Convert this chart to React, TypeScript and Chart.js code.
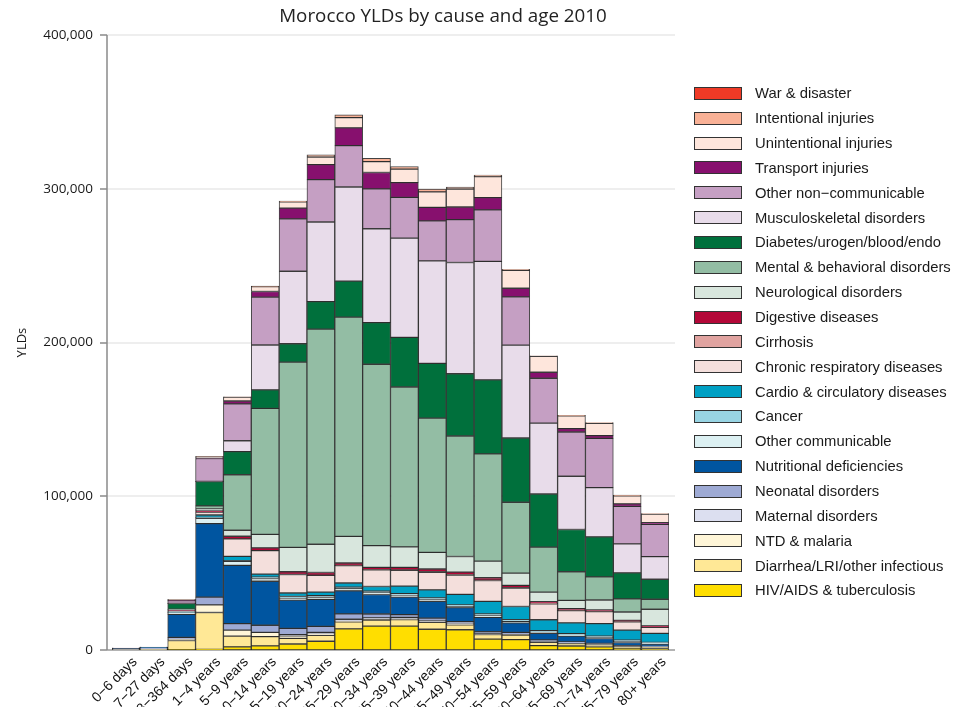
import React, { useEffect, useRef } from "react";
import { Chart, registerables } from "chart.js";
Chart.register(...registerables);

const ageGroups = [
  "0−6 days", "7−27 days", "28−364 days", "1−4 years", "5−9 years", "10−14 years",
  "15−19 years", "20−24 years", "25−29 years", "30−34 years", "35−39 years", "40−44 years",
  "45−49 years", "50−54 years", "55−59 years", "60−64 years", "65−69 years", "70−74 years",
  "75−79 years", "80+ years",
];

// Series values (YLDs), stacked bottom to top
const hivTb = [0, 0, 200, 400, 2000, 2700, 3900, 5700, 13700, 15500, 15500, 13500, 13200, 7100, 6700, 2800, 2600, 2000, 1100, 1000];
const diarrheaLri = [150, 350, 6000, 24000, 7000, 6000, 3700, 3900, 4600, 3900, 4300, 4500, 3200, 3000, 3000, 2200, 1500, 1300, 1100, 900];
const ntdMalaria = [0, 30, 800, 5000, 3900, 2800, 1600, 700, 300, 300, 300, 300, 300, 300, 300, 200, 200, 200, 100, 100];
const maternal = [0, 0, 0, 0, 0, 0, 800, 1200, 1400, 1200, 1100, 1000, 600, 0, 0, 0, 0, 0, 0, 0];
const neonatal = [900, 1100, 1200, 5000, 4300, 4600, 4100, 3900, 3500, 2500, 1800, 1400, 1200, 1500, 1500, 1400, 1000, 800, 500, 400];
const nutritional = [50, 150, 15000, 47800, 37900, 28600, 18400, 17500, 15000, 12700, 11500, 11000, 9100, 9300, 6100, 4300, 3700, 3200, 2100, 1500];
const otherCommunicable = [50, 100, 1000, 3500, 2600, 1800, 1200, 1600, 1400, 1100, 1100, 1000, 800, 1000, 900, 700, 700, 600, 600, 500];
const cancer = [0, 0, 300, 600, 400, 900, 1100, 900, 900, 1100, 1100, 1100, 900, 1200, 1200, 1000, 1000, 900, 900, 600];
const cardio = [0, 20, 400, 1500, 2800, 2000, 2300, 2300, 2800, 3000, 4800, 5300, 6900, 8200, 8600, 7100, 6900, 8200, 6500, 5800];
const chronicResp = [50, 50, 600, 1900, 11400, 15200, 12000, 10800, 11300, 10800, 10400, 11500, 12500, 13600, 11900, 10400, 8000, 7800, 5400, 3900];
const cirrhosis = [0, 0, 0, 0, 0, 0, 0, 100, 100, 200, 200, 300, 300, 300, 300, 200, 200, 100, 100, 100];
const digestive = [0, 0, 200, 900, 1700, 1800, 1800, 1800, 1600, 1400, 1600, 1800, 1700, 1500, 1500, 1100, 1100, 900, 900, 900];
const neurological = [0, 0, 500, 1100, 3900, 8800, 15900, 18400, 17300, 14200, 13400, 10800, 10100, 10800, 8000, 6300, 5400, 6500, 5400, 10800];
const mental = [0, 0, 300, 2100, 36100, 82000, 120500, 139900, 142600, 118000, 104000, 87300, 78400, 69800, 46100, 29200, 18600, 15100, 8600, 6500];
const diabetes = [0, 0, 3700, 15700, 15000, 12000, 11900, 17900, 23500, 27100, 32300, 35700, 40500, 48100, 41800, 34600, 27500, 26000, 16900, 13000];
const musculoskeletal = [0, 0, 100, 200, 7100, 29200, 47200, 51800, 61200, 61000, 64500, 66600, 72400, 77100, 60400, 46100, 34600, 32000, 18800, 14700];
const otherNcd = [50, 100, 1800, 14900, 24000, 31100, 34100, 27600, 26900, 26000, 26500, 26000, 27900, 33500, 31400, 29200, 28800, 32100, 24400, 21000];
const transport = [0, 0, 100, 300, 1900, 3700, 6900, 9700, 11500, 10600, 9600, 8800, 8200, 8000, 5600, 3900, 2200, 1800, 1700, 1100];
const unintentional = [50, 50, 600, 1000, 2500, 3200, 4100, 5000, 6700, 7100, 8800, 10100, 11700, 13600, 11700, 10400, 8400, 8000, 5200, 5600];
const intentional = [0, 0, 50, 100, 200, 300, 600, 1400, 1800, 2100, 1600, 1800, 1300, 1000, 600, 300, 200, 400, 500, 300];
const warDisaster = [0, 0, 0, 0, 0, 0, 0, 0, 0, 0, 0, 0, 0, 0, 0, 0, 0, 0, 0, 0];

const causeNames = [
  "HIV/AIDS & tuberculosis", "Diarrhea/LRI/other infectious", "NTD & malaria", "Maternal disorders",
  "Neonatal disorders", "Nutritional deficiencies", "Other communicable", "Cancer",
  "Cardio & circulatory diseases", "Chronic respiratory diseases", "Cirrhosis", "Digestive diseases",
  "Neurological disorders", "Mental & behavioral disorders", "Diabetes/urogen/blood/endo",
  "Musculoskeletal disorders", "Other non−communicable", "Transport injuries",
  "Unintentional injuries", "Intentional injuries", "War & disaster",
];
const causeValues = [
  hivTb, diarrheaLri, ntdMalaria, maternal, neonatal, nutritional, otherCommunicable, cancer,
  cardio, chronicResp, cirrhosis, digestive, neurological, mental, diabetes, musculoskeletal,
  otherNcd, transport, unintentional, intentional, warDisaster,
];
const causeColors = [
  "#ffde00", "#ffe896", "#fff6d8", "#dcdff0", "#9eaad4", "#0055a0", "#dcf0f2", "#98d4e3",
  "#00a0c4", "#f4dfdc", "#e0a3a0", "#b30738", "#d8e6dd", "#93bda4", "#00703c", "#e8dcea",
  "#c59fc3", "#87106e", "#fee6dc", "#f9b196", "#ef3a26",
];
const yTickValues = [0, 100000, 200000, 300000, 400000];
const chartTitle = "Morocco YLDs by cause and age 2010";
const yAxisTitle = "YLDs";

const W = 949;
const H = 699;

const decorPlugin = {
  id: "decor",
  beforeDatasetsDraw(chart: any) {
    const { ctx, chartArea, scales } = chart;
    const y = scales.y;
    const axisX = chartArea.left - 5;
    const rightX = chartArea.right + 6;
    ctx.save();
    ctx.lineWidth = 1.5;
    ctx.strokeStyle = "#e8e8e8";
    for (const v of yTickValues) {
      if (v === 0) continue;
      const py = Math.round(y.getPixelForValue(v));
      ctx.beginPath();
      ctx.moveTo(axisX, py);
      ctx.lineTo(rightX, py);
      ctx.stroke();
    }
    const zy = Math.round(y.getPixelForValue(0));
    ctx.strokeStyle = "#9a9a9a";
    ctx.beginPath();
    ctx.moveTo(axisX, zy);
    ctx.lineTo(rightX, zy);
    ctx.stroke();
    ctx.strokeStyle = "#8a8a8a";
    ctx.beginPath();
    ctx.moveTo(axisX, Math.round(y.getPixelForValue(400000)));
    ctx.lineTo(axisX, zy);
    ctx.stroke();
    for (const v of yTickValues) {
      const py = Math.round(y.getPixelForValue(v));
      ctx.beginPath();
      ctx.moveTo(axisX - 7, py);
      ctx.lineTo(axisX, py);
      ctx.stroke();
    }
    ctx.restore();
  },
  afterDraw(chart: any) {
    const { ctx } = chart;
    ctx.save();
    ctx.fillStyle = "#222";
    ctx.font = '18.8px "Open Sans", sans-serif';
    ctx.textAlign = "center";
    ctx.textBaseline = "alphabetic";
    ctx.fillText(chartTitle, 435, 14);

    const boxX = 685.5, boxW = 47.5, boxH = 12.8, firstY = 85.3, step = 24.85;
    ctx.font = '14.8px "Liberation Sans", Arial, sans-serif';
    ctx.textAlign = "left";
    ctx.textBaseline = "middle";
    const n = causeNames.length;
    for (let i = 0; i < n; i++) {
      const idx = n - 1 - i;
      const cy = firstY + i * step;
      const top = Math.round(cy - boxH / 2);
      ctx.fillStyle = causeColors[idx];
      ctx.fillRect(Math.round(boxX), top, Math.round(boxW), Math.round(boxH));
      ctx.strokeStyle = "#333";
      ctx.lineWidth = 1;
      ctx.strokeRect(Math.round(boxX) + 0.5, top + 0.5, Math.round(boxW) - 1, Math.round(boxH) - 1);
      ctx.fillStyle = "#1a1a1a";
      ctx.fillText(causeNames[idx], 747, cy + 1);
    }
    ctx.restore();
  },
};

export default function App() {
  const canvasRef = useRef<HTMLCanvasElement | null>(null);
  useEffect(() => {
    const canvas = canvasRef.current;
    if (!canvas) return;
    const chart = new Chart(canvas, {
      type: "bar",
      data: {
        labels: ageGroups,
        datasets: causeNames.map((name, i) => ({
          label: name,
          data: causeValues[i],
          backgroundColor: causeColors[i],
          borderColor: "rgba(20,20,20,0.8)",
          borderWidth: 1,
          borderSkipped: false,
          categoryPercentage: 1,
          barPercentage: 1,
        })),
      },
      options: {
        responsive: false,
        animation: false,
        devicePixelRatio: 1,
        layout: { padding: { left: 0, right: 288, top: 26, bottom: 0 } },
        plugins: {
          legend: { display: false },
          title: { display: false },
          tooltip: { enabled: false },
        },
        scales: {
          x: {
            stacked: true,
            grid: { display: false, drawTicks: false },
            border: { display: false },
            ticks: {
              autoSkip: false,
              maxRotation: 45,
              minRotation: 45,
              padding: 4,
              labelOffset: 9,
              color: "#111",
              font: { family: '"Liberation Sans", Arial, sans-serif', size: 14 },
            },
            afterFit: (scale: any) => { scale.height = 57; },
          },
          y: {
            stacked: true,
            min: 0,
            max: 400000,
            grid: { display: false, drawTicks: false },
            border: { display: false },
            ticks: {
              stepSize: 100000,
              padding: 19,
              color: "#1a1a1a",
              font: { family: '"Open Sans", sans-serif', size: 13.5 },
            },
            title: {
              display: true,
              text: yAxisTitle,
              color: "#1a1a1a",
              padding: { top: 6, bottom: 0 },
              font: { family: '"Open Sans", sans-serif', size: 13 },
            },
            afterFit: (scale: any) => { scale.width = 104; },
          },
        },
      },
      plugins: [decorPlugin],
    });
    return () => chart.destroy();
  }, []);
  return (
    <canvas ref={canvasRef} width={W} height={H} style={{ display: "block", width: W, height: H }} />
  );
}
